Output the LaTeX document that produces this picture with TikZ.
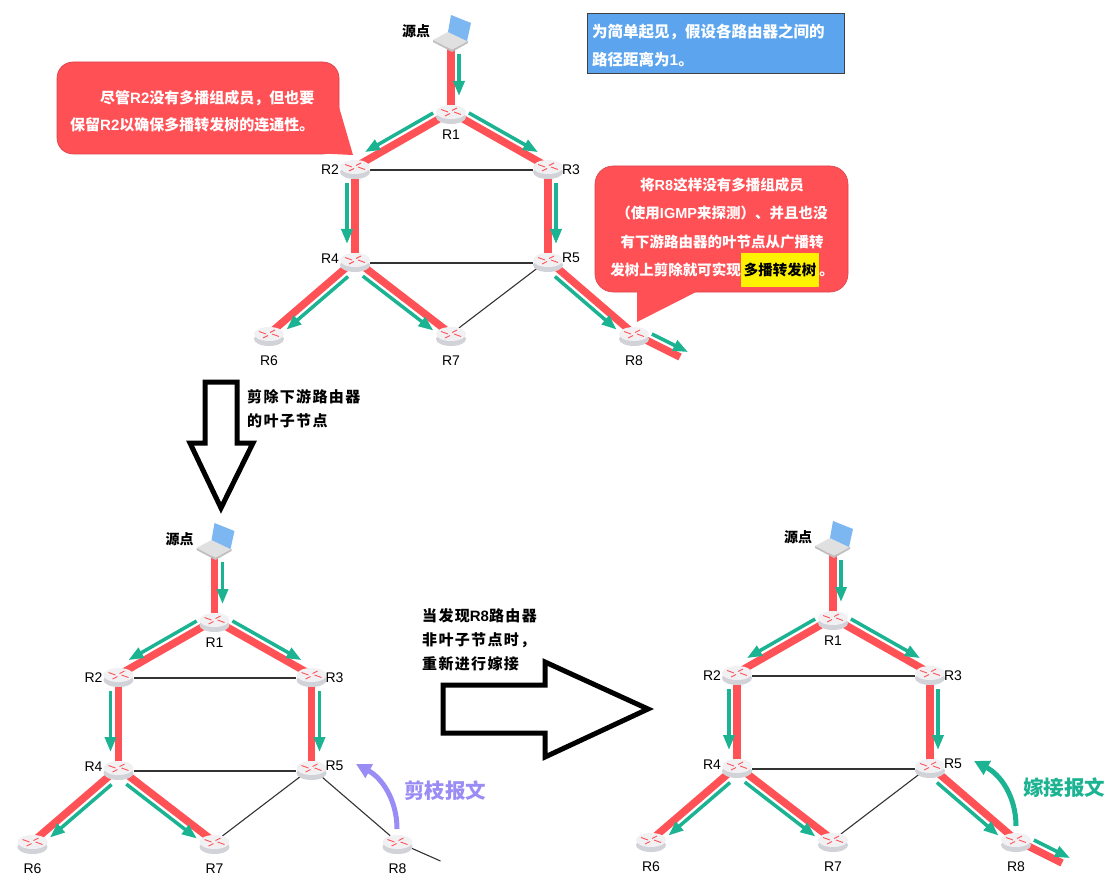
\documentclass[tikz,border=0pt]{standalone}
\usepackage{fontspec}
\setmainfont{Noto Sans CJK SC}
\newfontfamily\latinfont{Liberation Sans}
\newfontfamily\spacedfont[LetterSpace=9]{Noto Sans CJK SC}
\usetikzlibrary{calc, arrows.meta, shapes.geometric, backgrounds}
\definecolor{flowred}{HTML}{FF5257}
\definecolor{flowgreen}{HTML}{1BB391}
\definecolor{notered}{HTML}{FF5056}
\definecolor{noteblue}{HTML}{5CA5EE}
\definecolor{prunepurple}{HTML}{9A8CF5}
\definecolor{routertop}{HTML}{F1F1F4}
\definecolor{routerside}{HTML}{D2D3D9}

\tikzset{
  router/.style={ellipse, minimum width=30pt, minimum height=14pt, inner sep=0pt, fill=routertop,
    preaction={fill=routerside, transform canvas={yshift=-5pt}},
    path picture={
      \draw[flowred, line width=0.9pt] ($(path picture bounding box.center)+(-10,-2.5)$) -- ($(path picture bounding box.center)+(-3,0)$);
      \draw[flowred, line width=0.9pt] ($(path picture bounding box.center)+(10,2.5)$) -- ($(path picture bounding box.center)+(3,0)$);
      \draw[flowred, line width=0.9pt] ($(path picture bounding box.center)+(-6,4)$) -- ($(path picture bounding box.center)+(-1,1.5)$);
      \draw[flowred, line width=0.9pt] ($(path picture bounding box.center)+(6,-4)$) -- ($(path picture bounding box.center)+(1,-1.5)$);
    }},
  rname/.style={font=\latinfont\fontsize{14}{16}\selectfont, inner sep=0pt},
  link/.style={line width=1.1pt, black!80},
  redpath/.style={flowred, line width=7.5pt},
  greenpath/.style={flowgreen, line width=3.5pt, -{Triangle[width=11pt,length=15pt]}},
  hollow/.style={line width=5pt, draw=black, fill=white},
  callout/.style={fill=notered, draw=notered!85!black, line width=0.6pt},
  notetext/.style={text=white, font=\bfseries\fontsize{15}{27}\selectfont, inner sep=0pt},
  steptext/.style={font=\spacedfont\bfseries\fontsize{15}{24}\selectfont, inner sep=0pt, align=left, anchor=north west},
  srctext/.style={font=\bfseries\fontsize{14}{16}\selectfont, inner sep=0pt}
}

% one flow: red band between two nodes, green arrow beside it
\newcommand{\flow}[4][16pt]{%
  \draw[redpath] (#2.center) -- (#3.center);
  \draw[greenpath, shorten <=16pt, shorten >=#1] ($(#2.center)!8pt!#4:(#3.center)$) -- ($(#3.center)!8pt!-#4:(#2.center)$);
}

% routers, laptop and the flows all three pictures share
\newcommand{\basenet}{%
  \foreach \n/\x/\y in {R1/451/112, R2/355/167, R3/548/167, R4/355/260, R5/548/260, R6/269/334, R7/451/334, R8/634/334}
    \node[router] (\n) at (\x,\y) {};
  \foreach \n/\x/\y in {R1/451/135, R2/330/170, R3/571/170, R4/330/259, R5/571/258, R6/269/361, R7/451/361, R8/634/361}
    \node[rname] (L\n) at (\x,\y) {\n};
  \node[srctext] (srcname) at (416,31) {源点};
  \coordinate (src) at (451,38);
  \begin{scope}[on background layer]
    \draw[link] ([yshift=-3pt]R2.east) -- ([yshift=-3pt]R3.west);
    \draw[link] ([yshift=-3pt]R4.east) -- ([yshift=-3pt]R5.west);
    \draw[link] (R7) -- (R5);
    \flow{src}{R1}{90}
    \flow{R1}{R2}{-90}
    \flow{R1}{R3}{90}
    \flow{R2}{R4}{-90}
    \flow{R3}{R5}{90}
    \flow{R4}{R6}{90}
    \flow{R4}{R7}{-90}
  \end{scope}
  % laptop
  \fill[black!12] (433,40) -- (448,32) -- (468,41) -- (452,50) -- cycle;
  \fill[black!25] (433,40) -- (452,50) -- (468,41) -- (468,43) -- (452,52) -- (433,42) -- cycle;
  \fill[noteblue!80!white] (451,15) -- (471,23) -- (467,41) -- (448,32) -- cycle;
}

\begin{document}
\begin{tikzpicture}[x=1pt, y=-1pt]
  \useasboundingbox (0,0) rectangle (1113,885);

  % top picture
  \begin{scope}[name prefix=top-]
    \basenet
    \coordinate (tail) at (680,357);
    \begin{scope}[on background layer]
      \flow{R5}{R8}{-90}
      \flow[-5pt]{R8}{tail}{90}
    \end{scope}
  \end{scope}

  % bottom left picture
  \begin{scope}[shift={(-236.5,508)}, name prefix=left-]
    \basenet
    \coordinate (tail) at (677,353);
    \begin{scope}[on background layer]
      \draw[link] (R5) -- (R8);
      \draw[link] (R8) -- (tail);
    \end{scope}
  \end{scope}

  % bottom right picture
  \begin{scope}[shift={(382,506)}, name prefix=right-]
    \basenet
    \coordinate (tail) at (680,357);
    \begin{scope}[on background layer]
      \flow{R5}{R8}{-90}
      \flow[-5pt]{R8}{tail}{90}
    \end{scope}
  \end{scope}

  % notes
  \draw[callout, rounded corners=16pt] (57,62) -- (339,62) -- (339,154) -- (57,154) -- cycle;
  \fill[notered] (337,100) -- (353,155) -- (322,153.5) -- cycle;
  \node[notetext, align=left, anchor=west] (noteA) at (70,111.5) {\hspace*{30pt}尽管{\latinfont R2}没有多播组成员，但也要\\保留{\latinfont R2}以确保多播转发树的连通性。};

  \draw[callout, rounded corners=18pt] (595,166) -- (848,166) -- (848,292) -- (595,292) -- cycle;
  \fill[notered] (637,290) -- (637,322) -- (700,290) -- cycle;
  \node[notetext, align=center, font=\bfseries\fontsize{14.5}{28.5}\selectfont] (noteB) at (722,232.5) {将{\latinfont R8}这样没有多播组成员\\（使用{\latinfont IGMP}来探测）、并且也没\\有下游路由器的叶节点从广播转\\发树上剪除就可实现\colorbox{yellow}{\strut\textcolor{black}{多播转发树}}。};

  \node[draw=black!75, fill=noteblue, line width=1pt, minimum width=257pt, minimum height=60pt, anchor=north west, inner sep=0pt] (noteC) at (587,13) {};
  \node[notetext, align=left, anchor=west, font=\bfseries\fontsize{15.5}{28}\selectfont] (noteCtext) at (592,46) {为简单起见，假设各路由器之间的\\路径距离为{\latinfont 1}。};

  % big arrows between the pictures
  \draw[hollow] (205,382) -- (237,382) -- (237,443) -- (253,443) -- (221,508) -- (190,443) -- (205,443) -- cycle;
  \draw[hollow] (443,685) -- (545,685) -- (545,662) -- (648,709) -- (545,757) -- (545,733) -- (443,733) -- cycle;
  \node[steptext] (stepA) at (247,389) {剪除下游路由器\\的叶子节点};
  \node[steptext] (stepB) at (422,608) {当发现{\latinfont R8}路由器\\非叶子节点时，\\重新进行嫁接};

  % prune and graft messages
  \coordinate (pruneFrom) at (397,829);
  \coordinate (pruneTip) at (356,764);
  \draw[prunepurple, line width=5pt, -{Triangle[width=15pt,length=15pt]}] (pruneFrom) .. controls (397,800) and (382,778) .. (pruneTip);
  \node[font=\bfseries\fontsize{20.5}{24}\selectfont, text=prunepurple, inner sep=0pt] (pruneText) at (445,791) {剪枝报文};
  \coordinate (graftFrom) at (1016,826);
  \coordinate (graftTip) at (974,761);
  \draw[flowgreen, line width=5pt, -{Triangle[width=15pt,length=15pt]}] (graftFrom) .. controls (1016,797) and (1001,775) .. (graftTip);
  \node[font=\bfseries\fontsize{20.5}{24}\selectfont, text=flowgreen, inner sep=0pt] (graftText) at (1064,788) {嫁接报文};
\end{tikzpicture}
\end{document}
